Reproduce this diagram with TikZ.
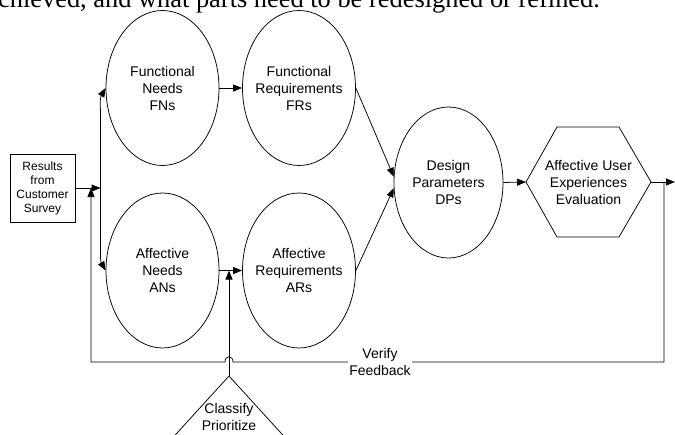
\documentclass[tikz,border=0pt]{standalone}
\usepackage{fontspec}
\setmainfont{Liberation Sans}
\newfontfamily\introfont{Liberation Serif}
\usetikzlibrary{shapes.geometric, arrows.meta}

\tikzset{
  blob/.style={ellipse, draw, minimum width=113pt, minimum height=155pt,
    inner xsep=-6pt, inner ysep=0pt, align=center},
  flow/.style={-{Triangle[length=9pt,width=7pt]}},
}

\begin{document}
\begin{tikzpicture}[x=1pt, y=-1pt, line width=0.75pt, font=\fontsize{14}{17}\selectfont]
    \useasboundingbox (0,0) rectangle (675,434);
    \clip (0,0) rectangle (675,434);

    % Cut-off line of running text above the figure
    \node[anchor=base west, inner sep=0, font=\introfont\fontsize{26.4}{30}\selectfont] (intro) at (-14,7)
        {achieved, and what parts need to be redesigned or refined.};

    % Survey input
    \node[draw, minimum width=65pt, minimum height=68pt, inner sep=0, align=center,
          font=\fontsize{12}{14}\selectfont] (res) at (42.5,188) {Results\\from\\Customer\\Survey};
    \coordinate (hub) at (100.5,188);

    % Needs and requirements
    \node[blob] (FN) at (162.5,88) {Functional\\Needs\\FNs};
    \node[blob] (FR) at (299,88) {Functional\\Requirements\\FRs};
    \node[blob] (AN) at (162.5,270.5) {Affective\\Needs\\ANs};
    \node[blob] (AR) at (299,270.5) {Affective\\Requirements\\ARs};
    \node[blob, minimum width=109pt, minimum height=151pt] (DP) at (448.5,182.5) {Design\\Parameters\\DPs};

    % Evaluation hexagon
    \draw (526,182) -- (557,127) -- (619,127) -- (651,182) -- (619,237) -- (557,237) -- cycle;
    \node[align=center] (hex) at (588.5,182) {Affective User\\Experiences\\Evaluation};
    \coordinate (hexW) at (526,182);
    \coordinate (hexE) at (651,182);
    \coordinate (outR) at (675,182);

    % Classify triangle
    \coordinate (cls) at (229,376);
    \draw (cls) -- ++(-72,79) (cls) -- ++(72,79);
    \node[align=center] (clsTxt) at (229,416.5) {Classify\\Prioritize};

    % Forward flow
    \draw[flow] (res.east) -- (hub);
    \draw[flow] (hub) -- ++(0,-70) to[out=90, in=240] (FN.west);
    \draw[flow] (hub) -- ++(0,70) to[out=-90, in=120] (AN.west);
    \draw[flow] (FN.east) -- (FR.west);
    \draw[flow] (AN.east) -- (AR.west);
    \draw[flow] (cls) -- (cls |- AN.east);
    \draw[flow] (FR.east) -- (DP.174);
    \draw[flow] (AR.east) -- (DP.186);
    \draw[flow] (DP.east) -- (hexW);
    \draw[flow] (hexE) -- (outR);

    % Feedback loop
    \coordinate (fbR) at (664,182);
    \coordinate (fbB) at (664,362);
    \coordinate (fbL) at (91,362);
    \coordinate (fbUp) at (91,188);
    \draw[flow] (fbR) -- (fbB) -- (233,362) .. controls (233,355) and (225,355) .. (225,362) -- (fbL) -- (fbUp);
    \node[fill=white, align=center, inner sep=1pt] (fb) at (380,362) {Verify\\Feedback};

\end{tikzpicture}
\end{document}
